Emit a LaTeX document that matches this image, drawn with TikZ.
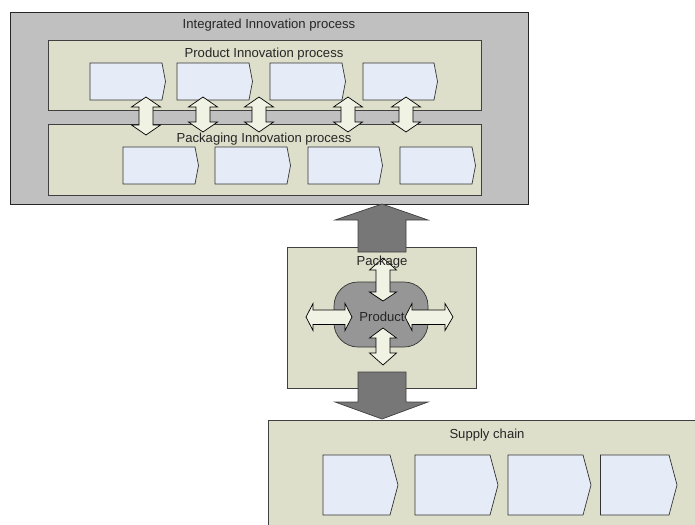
\documentclass[tikz,border=0pt]{standalone}
\usepackage{fontspec}
\setmainfont{Liberation Sans}
\definecolor{outergray}{RGB}{192,192,192}
\definecolor{khaki}{RGB}{221,223,202}
\definecolor{chev}{RGB}{229,235,247}
\definecolor{prodgray}{RGB}{150,150,150}
\definecolor{bigarrow}{RGB}{119,119,119}
\definecolor{arrowfill}{RGB}{240,242,228}
\definecolor{edge}{RGB}{64,64,64}
\tikzset{
  outerbox/.style={draw=black!85, fill=outergray, line width=0.8pt},
  procbox/.style={draw=edge, fill=khaki, line width=0.8pt},
  chevbox/.style={draw=black!80, fill=chev, line width=0.7pt},
  dblarrow/.style={draw=black, fill=arrowfill, line width=0.7pt},
  bigarr/.style={draw=edge, fill=bigarrow, line width=0.7pt},
  prodshape/.style={draw=black!80, fill=prodgray, line width=0.7pt},
  lbl/.style={font=\fontsize{13.1}{15}\selectfont, inner sep=0pt, text=black!85},
}
\begin{document}
\begin{tikzpicture}[x=1pt,y=-1pt]
\useasboundingbox (0,0) rectangle (695,524);
% outer integrated box
\draw[outerbox] (10,12) rectangle (528,204);
\node[lbl] (integ) at (269,25) {Integrated Innovation process};
% product & packaging boxes
\draw[procbox] (48,40) rectangle (481,110);
\node[lbl] (prodproc) at (264,54) {Product Innovation process};
\draw[procbox] (48,124) rectangle (481,195);
% product chevrons
\foreach \a/\b in {90/162, 177/249, 270/342, 363/434}{
  \draw[chevbox] (\a,63) -- (\b,63) -- (\b+3.5,81.5) -- (\b,100) -- (\a,100) -- cycle;
}
% packaging chevrons
\foreach \a/\b in {123/195, 215/287, 308/379, 400/472}{
  \draw[chevbox] (\a,147) -- (\b,147) -- (\b+3.5,165.5) -- (\b,184) -- (\a,184) -- cycle;
}
% vertical double arrows between product and packaging
\foreach \cx/\ya/\yb in {146/97/135, 203/97/132, 259/97/132, 348/97/132, 406/97/132}{
  \draw[dblarrow] (\cx,\ya) -- (\cx+14.5,\ya+10) -- (\cx+7,\ya+10) -- (\cx+7,\yb-10)
    -- (\cx+14.5,\yb-10) -- (\cx,\yb) -- (\cx-14.5,\yb-10) -- (\cx-7,\yb-10)
    -- (\cx-7,\ya+10) -- (\cx-14.5,\ya+10) -- cycle;
}
\node[lbl] (packproc) at (264,139) {Packaging Innovation process};
% package box
\draw[procbox] (287,247) rectangle (476,388);
% big up arrow
\draw[bigarr] (382,204) -- (428,220) -- (406,220) -- (406,252) -- (358,252) -- (358,220) -- (335,220) -- cycle;
% big down arrow
\draw[bigarr] (358,372) -- (406,372) -- (406,402) -- (428,402) -- (382,419) -- (335,402) -- (358,402) -- cycle;
% product shape
\draw[prodshape, rounded corners=24pt] (334,282) rectangle (428,347);
% small arrows
\draw[dblarrow] (383,258) -- (396.5,270) -- (390,270) -- (390,292) -- (396.5,292) -- (383,301)
  -- (369.5,292) -- (376,292) -- (376,270) -- (369.5,270) -- cycle;
\draw[dblarrow] (383,328) -- (396.5,338) -- (390,338) -- (390,353) -- (396.5,353) -- (383,365)
  -- (369.5,353) -- (376,353) -- (376,338) -- (369.5,338) -- cycle;
\draw[dblarrow] (306,317) -- (313,303.5) -- (313,310) -- (345,310) -- (345,303.5) -- (352,317)
  -- (345,330.5) -- (345,324.5) -- (313,324.5) -- (313,330.5) -- cycle;
\draw[dblarrow] (405,317) -- (412,303.5) -- (412,310) -- (445,310) -- (445,303.5) -- (453,317)
  -- (445,330.5) -- (445,324.5) -- (412,324.5) -- (412,330.5) -- cycle;
\node[lbl] (package) at (382,262) {Package};
\node[lbl] (product) at (382,317) {Product};
% supply chain box
\draw[procbox] (268,420.5) rectangle (700,530);
\node[lbl] (supply) at (487,435) {Supply chain};
\foreach \a/\b in {323/390, 415/490, 508/583, 600.5/669}{
  \draw[chevbox] (\a,455) -- (\b,455) -- (\b+8,485) -- (\b,515) -- (\a,515) -- cycle;
}
\end{tikzpicture}
\end{document}
